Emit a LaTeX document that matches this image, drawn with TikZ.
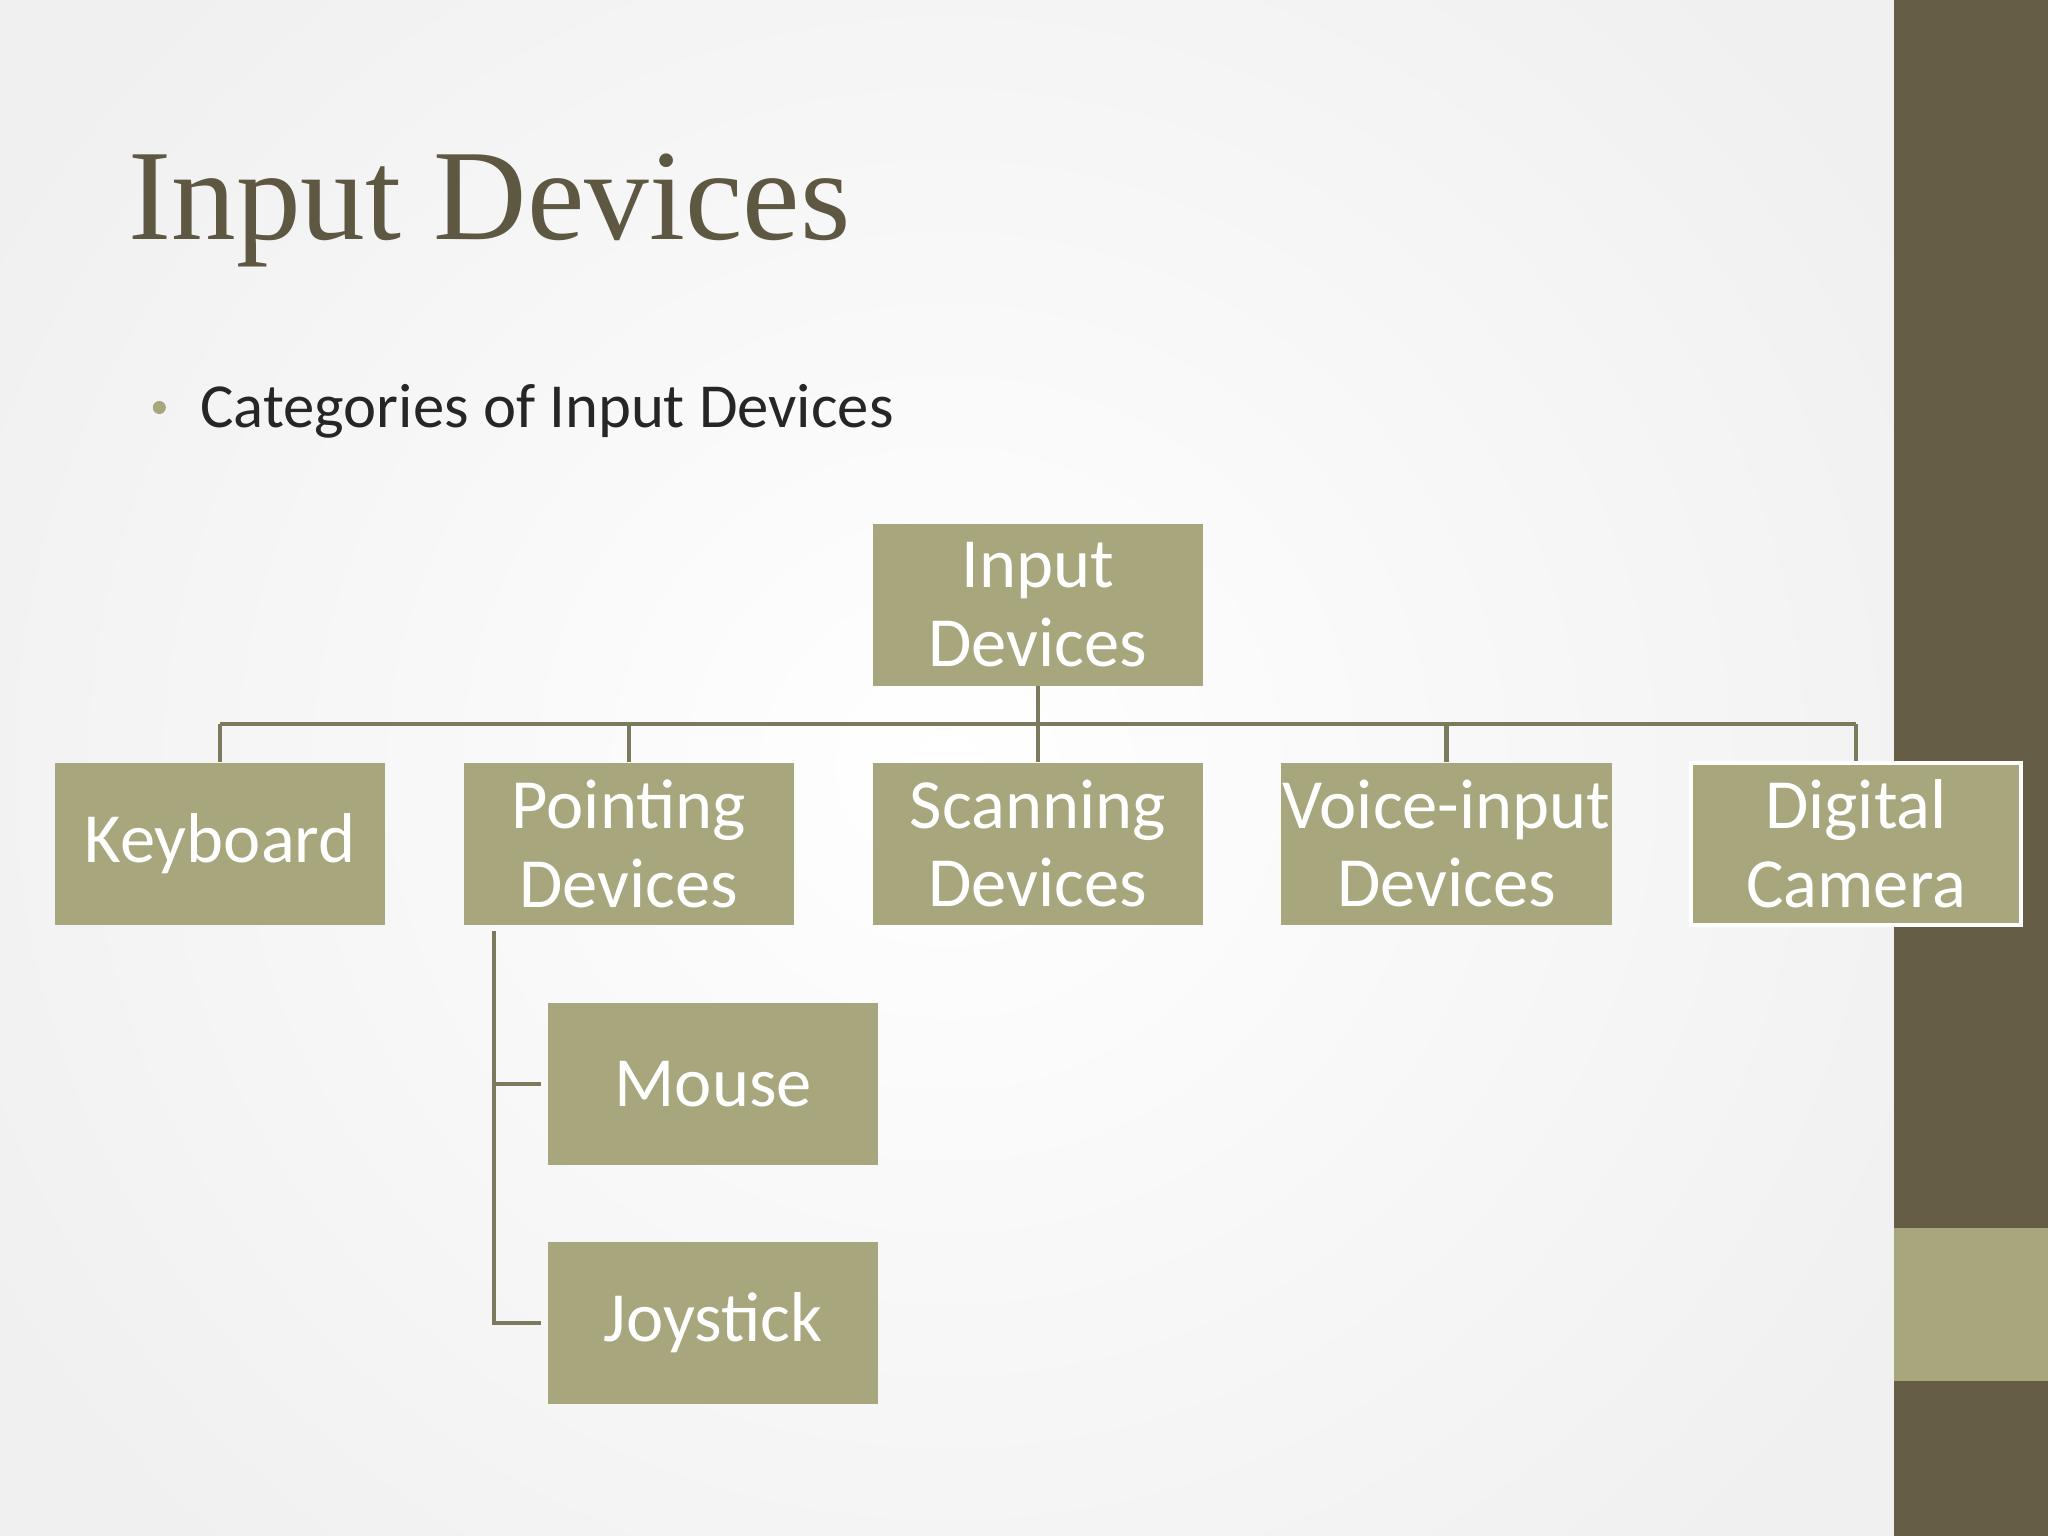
\documentclass[tikz,border=0pt]{standalone}
\usepackage{fontspec}
\setmainfont{Carlito}
\newfontfamily\titlefont{Liberation Serif}
\definecolor{boxc}{HTML}{A7A67C}
\definecolor{darkb}{HTML}{655D45}
\definecolor{linec}{HTML}{7B7A5C}
\definecolor{titlec}{HTML}{5E5843}
\begin{document}
\begin{tikzpicture}[x=0.5pt,y=-0.5pt,
  box/.style={fill=boxc,text=white,minimum width=126.5pt,minimum height=62pt,inner sep=0pt,align=center,font=\fontsize{27}{30}\selectfont},
  conn/.style={draw=linec,line width=1.6pt}]
\useasboundingbox (0,0) rectangle (1568,1176);
\fill[black!6] (0,0) rectangle (1450,1176);
\shade[inner color=white,outer color=black!6,shading=radial] (-150,-250) rectangle (1600,1426);
\fill[darkb] (1450,0) rectangle (1568,1176);
\fill[boxc] (1450,940) rectangle (1568,1057);
\node[anchor=base west,inner sep=0pt,text=titlec,font=\titlefont\fontsize{49.5}{52}\selectfont] (title) at (98,183) {Input Devices};
\fill[boxc] (122,312) circle (5);
\node[anchor=base west,inner sep=0pt,font=\fontsize{24}{28}\selectfont,text=black!85] (sub) at (153,327) {Categories of Input Devices};
\node[box] (root) at (794.5,463) {Input\\Devices};
\node[box] (kb) at (168.5,646) {Keyboard};
\node[box] (pd) at (481.5,646) {Pointing\\Devices};
\node[box] (sd) at (794.5,646) {Scanning\\Devices};
\node[box] (vd) at (1107.5,646) {Voice-input\\Devices};
\node[box,draw=white,line width=1.5pt] (dc) at (1421,646) {Digital\\Camera};
\node[box] (ms) at (546,830) {Mouse};
\node[box] (js) at (546,1013) {Joystick};
\coordinate (h) at (794.5,554);
\draw[conn] (root.south) -- (h);
\foreach \n in {kb,pd,sd,vd,dc} \draw[conn] (\n.north) -- (\n.north |- h);
\draw[conn] (kb.north |- h) -- (dc.north |- h);
\coordinate (v) at (378,713);
\draw[conn] (v) |- ([xshift=-2.5pt]ms.west);
\draw[conn] (v) |- ([xshift=-2.5pt]js.west);
\end{tikzpicture}
\end{document}
